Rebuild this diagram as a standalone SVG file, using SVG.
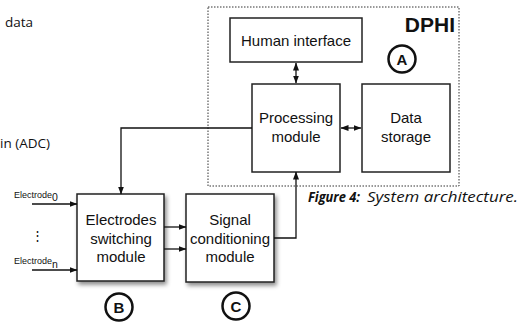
<svg xmlns="http://www.w3.org/2000/svg" width="531" height="322" viewBox="0 0 531 322">
<style>
.box{fill:#fff;stroke:#222;stroke-width:1.5}
.t{font-family:"Liberation Sans",Arial,sans-serif;font-size:15px;fill:#111;text-anchor:middle}
.lbl{font-family:"Liberation Sans",Arial,sans-serif;fill:#111}
.c{fill:none;stroke:#111;stroke-width:2.5}
.cl{font-family:"Liberation Sans",Arial,sans-serif;font-size:15px;font-weight:bold;fill:#111;text-anchor:middle}
.ln{fill:none;stroke:#111;stroke-width:1.3}
.side{font-family:"Open Sans",sans-serif;font-size:13.5px;fill:#111}
</style>
<defs>
<marker id="ah" markerWidth="8" markerHeight="6" refX="7.5" refY="3" orient="auto-start-reverse" markerUnits="userSpaceOnUse">
<path d="M0,0 L8,3 L0,6 z" fill="#111"/>
</marker>
<filter id="sh" x="-10%" y="-10%" width="130%" height="130%">
<feDropShadow dx="2" dy="3" stdDeviation="2" flood-color="#000" flood-opacity="0.45"/>
</filter>
</defs>

<text class="side" x="5" y="27">data</text>
<text class="side" x="0" y="148">in (ADC)</text>

<g id="dphi">
<rect x="208" y="7" width="251" height="179" fill="none" stroke="#333" stroke-width="1" stroke-dasharray="1.5,1.5"/>
<text class="lbl" x="455" y="32" font-size="21" font-weight="bold" text-anchor="end">DPHI</text>
</g>

<g id="human-interface">
<rect class="box" x="230" y="18" width="132" height="44"/>
<text class="t" x="296" y="46">Human interface</text>
</g>

<g id="processing">
<rect class="box" x="252" y="84" width="88" height="88"/>
<text class="t" x="296" y="123">Processing</text>
<text class="t" x="296" y="142">module</text>
</g>

<g id="data-storage">
<rect class="box" x="362" y="84" width="88" height="88"/>
<text class="t" x="406" y="123">Data</text>
<text class="t" x="406" y="142">storage</text>
</g>

<g id="electrodes-switching">
<rect class="box" x="77" y="194" width="87" height="87" filter="url(#sh)"/>
<text class="t" x="121" y="225">Electrodes</text>
<text class="t" x="121" y="243.5">switching</text>
<text class="t" x="121" y="262">module</text>
</g>

<g id="signal-conditioning">
<rect class="box" x="186" y="194" width="88" height="88" filter="url(#sh)"/>
<text class="t" x="230" y="225">Signal</text>
<text class="t" x="230" y="243.5">conditioning</text>
<text class="t" x="230" y="262">module</text>
</g>

<g id="label-a">
<circle class="c" cx="402" cy="59" r="13.5"/>
<text class="cl" x="402" y="64.5">A</text>
</g>
<g id="label-b">
<circle class="c" cx="119" cy="307" r="13.5"/>
<text class="cl" x="119" y="312.5">B</text>
</g>
<g id="label-c">
<circle class="c" cx="236" cy="306" r="13.5"/>
<text class="cl" x="236" y="311.5">C</text>
</g>

<g id="electrode-inputs">
<text class="lbl" x="14" y="198" font-size="9">Electrode<tspan font-size="10.5" dy="3">0</tspan></text>
<text class="lbl" x="14" y="264" font-size="9">Electrode<tspan font-size="10.5" dy="4">n</tspan></text>
<text class="lbl" x="37" y="240" font-size="13" text-anchor="middle" font-family="DejaVu Sans,sans-serif">⋮</text>
</g>

<g id="connectors">
<line class="ln" x1="32" y1="204" x2="77" y2="204" marker-end="url(#ah)"/>
<line class="ln" x1="32" y1="270" x2="77" y2="270" marker-end="url(#ah)"/>
<line class="ln" x1="164" y1="227" x2="186" y2="227" marker-end="url(#ah)"/>
<line class="ln" x1="164" y1="249" x2="186" y2="249" marker-end="url(#ah)"/>
<polyline class="ln" points="274,238 296,238 296,172" marker-end="url(#ah)"/>
<polyline class="ln" points="252,128 121,128 121,194" marker-end="url(#ah)"/>
<line class="ln" x1="296" y1="63" x2="296" y2="83" marker-start="url(#ah)" marker-end="url(#ah)"/>
<line class="ln" x1="341" y1="128" x2="361" y2="128" marker-start="url(#ah)" marker-end="url(#ah)"/>
</g>

<text x="308" y="202" font-family="Open Sans,sans-serif" font-size="14" font-style="italic" fill="#111"><tspan font-weight="bold" textLength="52" lengthAdjust="spacingAndGlyphs">Figure 4:</tspan><tspan x="367" textLength="151" lengthAdjust="spacingAndGlyphs">System architecture.</tspan></text>
</svg>
